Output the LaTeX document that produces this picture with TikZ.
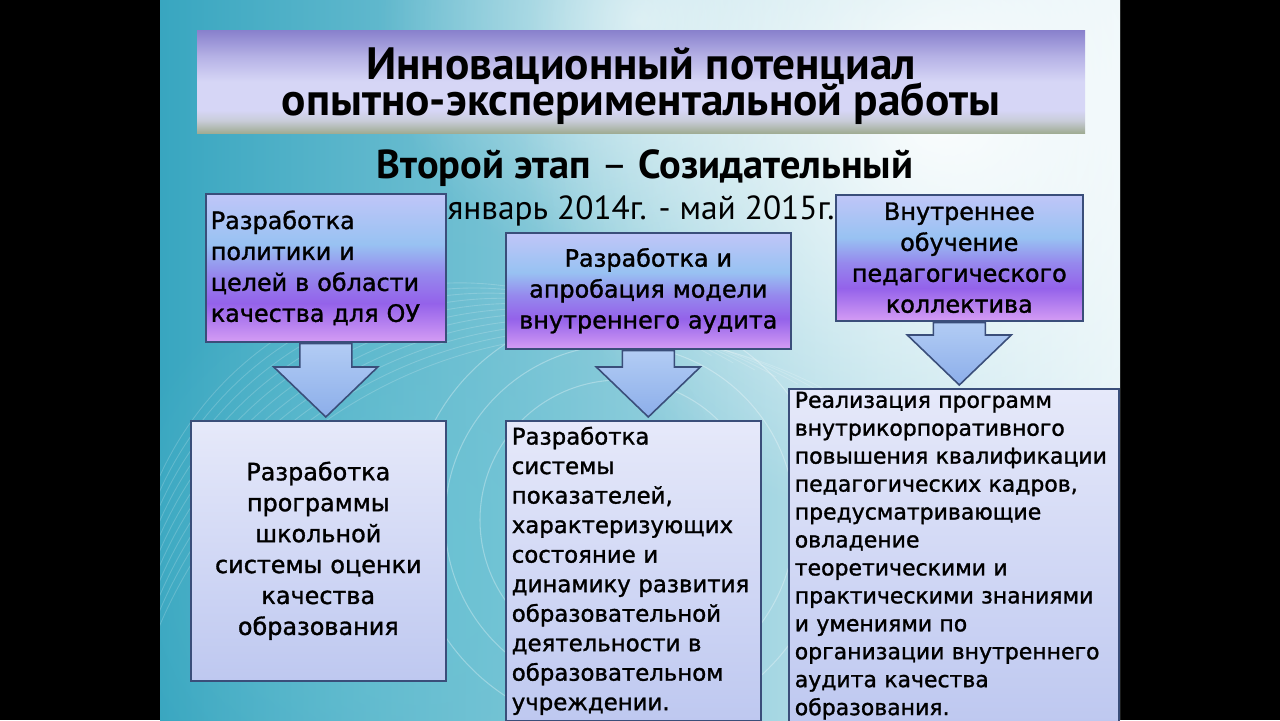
\documentclass[tikz,border=0pt]{standalone}
\usepackage{fontspec}
\setmainfont{DejaVu Sans}
\newfontfamily\boxfont[FakeBold=1.3]{DejaVu Sans}
\newfontfamily\titlefont{PT Sans}
\usetikzlibrary{positioning,calc,fadings}

\definecolor{bgteal}{HTML}{38A6C0}
\definecolor{bgmid}{HTML}{6CC6D6}
\definecolor{bglight}{HTML}{E4F3F7}
\definecolor{boxline}{HTML}{3A4E7A}
\definecolor{boxlav}{HTML}{C0C6F8}
\definecolor{boxblue}{HTML}{98C2F2}
\definecolor{boxviolet}{HTML}{9462EA}
\definecolor{boxpink}{HTML}{D49CF4}
\definecolor{arrowtop}{HTML}{B2CCF4}
\definecolor{arrowbot}{HTML}{8CAEEA}
\definecolor{lowtop}{HTML}{E6E9FA}
\definecolor{lowbot}{HTML}{BEC8F0}
\definecolor{bantop}{HTML}{8880CC}
\definecolor{banmid}{HTML}{B6B2E6}
\definecolor{banlight}{HTML}{D6D6F6}
\definecolor{bangrey}{HTML}{C8CCD8}
\definecolor{banbot}{HTML}{A0AC94}

\pgfdeclareverticalshading{topboxshade}{100bp}{color(0bp)=(boxpink); color(25bp)=(boxpink);
  color(38bp)=(boxviolet); color(48bp)=(boxviolet!60!boxblue); color(58bp)=(boxblue);
  color(75bp)=(boxlav); color(100bp)=(boxlav)}
\pgfdeclareverticalshading{bannershade}{100bp}{color(0bp)=(banbot); color(25bp)=(banbot);
  color(31bp)=(bangrey); color(36bp)=(banlight); color(50bp)=(banlight);
  color(62bp)=(banmid); color(75bp)=(bantop); color(100bp)=(bantop)}

\tikzfading[name=glowfade, inner color=transparent!0, outer color=transparent!100]

\newcommand\px{0.02cm}

\begin{document}
\begin{tikzpicture}[x=\px, y=-\px]
  \tikzset{
    topbox/.style={draw=boxline, line width=0.9pt, shading=topboxshade, anchor=north west,
      inner sep=5*\px, font=\boxfont\fontsize{13.6}{17.6}\selectfont},
    lowbox/.style={draw=boxline, line width=0.9pt, top color=lowtop, bottom color=lowbot,
      anchor=north west, inner sep=6*\px, font=\boxfont\fontsize{13.6}{17.6}\selectfont},
    blockarrow/.style={draw=boxline, line width=0.9pt, top color=arrowtop, bottom color=arrowbot},
    headline/.style={inner sep=0pt, font=\titlefont\bfseries\fontsize{25.8}{25.8}\selectfont}
  }
  \useasboundingbox (0,0) rectangle (1280,720);

  % background
  \fill[black] (0,0) rectangle (1280,720);
  \begin{scope}
    \clip (160,0) rectangle (1120,720);
    \shade[left color=bgteal, right color=bglight] (160,0) rectangle (1120,720);
    \fill[bgmid, path fading=glowfade, fill opacity=0.6] (420,560) circle (320);
    \fill[white, path fading=glowfade, fill opacity=0.95] (940,110) circle (420);
    \fill[white, path fading=glowfade, fill opacity=0.6] (640,20) circle (260);
    \foreach \r in {330,345,...,480}
      \draw[white, opacity=0.18, line width=0.5pt] (150,\r+170) arc[start angle=200, end angle=300, radius=\r];
    \foreach \r in {140,175,210}
      \draw[white, opacity=0.3, line width=0.6pt] (620,520) circle (\r);

    % title
    \shade[shading=bannershade] (197,30) rectangle (1085,133);
    \node[headline] (title) at (641,66) {Инновационный потенциал};
    \node[headline] (title2) at (641,104) {опытно-экспериментальной работы};
    \node[font=\titlefont\bfseries\fontsize{23}{23}\selectfont] (stage) at (645,168)
      {Второй этап {\mdseries –} Созидательный};
    \node[font=\titlefont\fontsize{19}{19}\selectfont] (dates) at (641,211)
      {январь 2014г. - май 2015г.};

    % upper boxes
    \node[topbox, minimum width=240*\px, minimum height=148*\px, text width=230*\px, align=left]
      (polit) at (205,193) {Разработка\\политики и\\целей в области\\качества для ОУ};
    \node[topbox, minimum width=285*\px, minimum height=116*\px, text width=275*\px, align=center]
      (audit) at (505,232) {Разработка и\\апробация модели\\внутреннего аудита};
    \node[topbox, minimum width=247*\px, minimum height=126*\px, text width=237*\px, align=center]
      (obuch) at (835,194) {Внутреннее\\обучение\\педагогического\\коллектива};

    % lower boxes
    \node[lowbox, minimum width=255*\px, minimum height=260*\px, text width=243*\px, align=center]
      (progr) at (190,420) {Разработка\\программы\\школьной\\системы оценки\\качества\\образования};
    \node[lowbox, minimum width=255*\px, text width=243*\px, align=left,
      font=\boxfont\fontsize{13}{16.8}\selectfont]
      (pokaz) at (505,420) {Разработка\\системы\\показателей,\\характеризующих\\состояние и\\динамику развития\\образовательной\\деятельности в\\образовательном\\учреждении.};
    \node[lowbox, minimum width=330*\px, text width=318*\px, align=left, inner ysep=3*\px,
      font=\boxfont\fontsize{12.5}{15.9}\selectfont]
      (realiz) at (788,388) {Реализация программ\\внутрикорпоративного\\повышения квалификации\\педагогических кадров,\\предусматривающие\\овладение\\теоретическими и\\практическими знаниями\\и умениями по\\организации внутреннего\\аудита качества\\образования.};

    % block arrows
    \foreach \src/\dst in {polit/progr, audit/pokaz, obuch/realiz} {
      \coordinate (tip) at ($(\src.south |- \dst.north)+(0,-3)$);
      \draw[blockarrow] ($(\src.south)+(-26,1)$) -- ($(tip)+(-26,-50)$) -- ($(tip)+(-52,-50)$)
        -- (tip) -- ($(tip)+(52,-50)$) -- ($(tip)+(26,-50)$) -- ($(\src.south)+(26,1)$) -- cycle;
    }
  \end{scope}
\end{tikzpicture}
\end{document}
